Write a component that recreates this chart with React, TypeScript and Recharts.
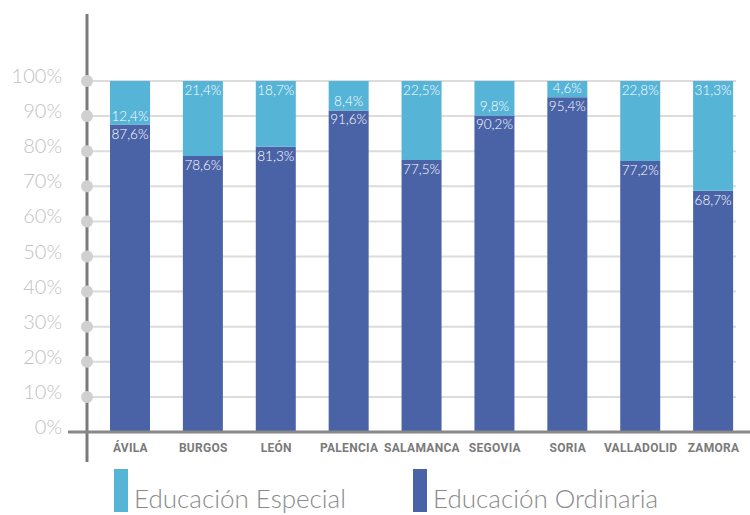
import React from 'react';
import { BarChart, Bar, XAxis, YAxis, CartesianGrid, LabelList } from 'recharts';

const provincias = ['ÁVILA', 'BURGOS', 'LEÓN', 'PALENCIA', 'SALAMANCA', 'SEGOVIA', 'SORIA', 'VALLADOLID', 'ZAMORA'];
const ordinaria = [87.6, 78.6, 81.3, 91.6, 77.5, 90.2, 95.4, 77.2, 68.7];
const especial = [12.4, 21.4, 18.7, 8.4, 22.5, 9.8, 4.6, 22.8, 31.3];
const yTicks = [0, 10, 20, 30, 40, 50, 60, 70, 80, 90, 100];

const data = provincias.map((name, i) => ({ name, ordinaria: ordinaria[i], especial: especial[i] }));

const CHART_W = 750;
const COLOR_ESP = '#56B4D7';
const COLOR_ORD = '#4A63A7';
const FONT = 'Lato, "Open Sans", sans-serif';

const fmt = (v: number) => v.toFixed(1).replace('.', ',') + '%';

const YTick = (props: any) => {
  const { x, y, payload } = props;
  const v = payload.value;
  return (
    <g>
      {v === 0 ? (
        <line x1={x - 19} x2={CHART_W} y1={y} y2={y} stroke="#888" strokeWidth={3} />
      ) : (
        <circle cx={x} cy={y} r={6} fill="#d0d0d0" />
      )}
      <text x={x - 25} y={y - 6} textAnchor="end" dominantBaseline="central" fill="#c2c2c2" fontSize={20} fontWeight={300} fontFamily={FONT}>
        {v}%
      </text>
    </g>
  );
};

const XTick = (props: any) => {
  const { x, y, payload } = props;
  return (
    <text x={x} y={y - 14} textAnchor="middle" dominantBaseline="central" fill="#7a7a7a" fontSize={12} fontWeight={700} letterSpacing={0.3} fontFamily='Roboto, sans-serif'>
      {payload.value}
    </text>
  );
};

const OrdLabel = (props: any) => {
  const { x, y, width, value } = props;
  return (
    <text x={x + width / 2} y={y + 9} textAnchor="middle" dominantBaseline="central" fill="#ffffff" fontSize={13.5} fontWeight={300} fontFamily={FONT}>
      {fmt(value)}
    </text>
  );
};

const EspLabel = (props: any) => {
  const { x, y, width, height, value } = props;
  const ly = value < 15 ? y + height - 9 : y + 9;
  return (
    <text x={x + width / 2} y={ly} textAnchor="middle" dominantBaseline="central" fill="#ffffff" fontSize={13.5} fontWeight={300} fontFamily={FONT}>
      {fmt(value)}
    </text>
  );
};

export default function App() {
  return (
    <div style={{ position: 'absolute', left: 0, top: 0, width: 750, height: 515, background: '#fff' }}>
      <BarChart width={CHART_W} height={515} data={data} margin={{ top: 14, right: 14, bottom: 23, left: 0 }} barCategoryGap={0}>
        <CartesianGrid vertical={false} horizontalValues={[10, 20, 30, 40, 50, 60, 70, 80, 90, 100]} stroke="#dcdcdc" strokeWidth={2} />
        <XAxis dataKey="name" axisLine={false} tickLine={false} tickSize={0} tickMargin={0} height={30} padding={{ left: 7, right: -14 }} tick={<XTick />} interval={0} />
        <YAxis type="number" domain={[-8.547, 119.09]} ticks={yTicks} width={87} axisLine={{ stroke: '#7a7a7a', strokeWidth: 3 }} tickLine={false} tickSize={0} tickMargin={0} tick={<YTick />} interval={0} />
        <Bar dataKey="ordinaria" stackId="a" fill={COLOR_ORD} barSize={40} isAnimationActive={false}>
          <LabelList dataKey="ordinaria" content={<OrdLabel />} />
        </Bar>
        <Bar dataKey="especial" stackId="a" fill={COLOR_ESP} barSize={40} isAnimationActive={false}>
          <LabelList dataKey="especial" content={<EspLabel />} />
        </Bar>
      </BarChart>
      <div style={{ position: 'absolute', left: 114, top: 469, width: 14, height: 43, background: COLOR_ESP }} />
      <div style={{ position: 'absolute', left: 134, top: 482, fontFamily: FONT, fontWeight: 300, fontSize: 26, color: '#8a8a8a', lineHeight: '32px', whiteSpace: 'nowrap' }}>Educación Especial</div>
      <div style={{ position: 'absolute', left: 413, top: 469, width: 14, height: 43, background: COLOR_ORD }} />
      <div style={{ position: 'absolute', left: 433, top: 482, fontFamily: FONT, fontWeight: 300, fontSize: 26, color: '#8a8a8a', lineHeight: '32px', whiteSpace: 'nowrap' }}>Educación Ordinaria</div>
    </div>
  );
}
